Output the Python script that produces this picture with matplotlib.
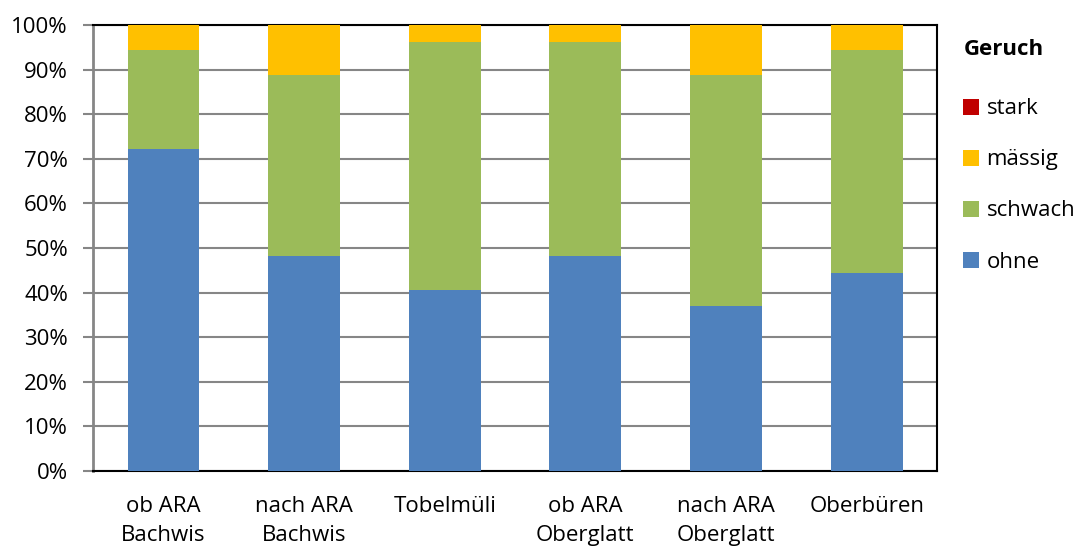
import numpy as np
import matplotlib
matplotlib.use("Agg")
import matplotlib.pyplot as plt
from matplotlib.ticker import MultipleLocator, PercentFormatter

plt.rcParams["font.family"] = ["Open Sans", "DejaVu Sans"]

stations = ["ob ARA\nBachwis", "nach ARA\nBachwis", "Tobelmüli",
            "ob ARA\nOberglatt", "nach ARA\nOberglatt", "Oberbüren"]
ohne = [72.2, 48.1, 40.7, 48.1, 37.0, 44.4]
schwach = [22.2, 40.7, 55.6, 48.1, 51.9, 50.0]
maessig = [5.6, 11.1, 3.7, 3.7, 11.1, 5.6]
stark = [0.0, 0.0, 0.0, 0.0, 0.0, 0.0]

series = [("ohne", ohne, "#4F81BD"),
          ("schwach", schwach, "#9BBB59"),
          ("mässig", maessig, "#FFC000"),
          ("stark", stark, "#C00000")]

FS = 16

fig = plt.figure(figsize=(10.82, 5.5), dpi=100)
ax = fig.add_axes([0.086, 0.1436, 0.780, 0.8109])

x = np.arange(len(stations))
bottom = np.zeros(len(stations))
handles = []
for name, vals, color in series:
    b = ax.bar(x, vals, 0.51, bottom=bottom, color=color, label=name, zorder=3)
    bottom += np.array(vals)
    handles.append(b)

ax.set_xlim(-0.5, len(stations) - 0.5)
ax.set_ylim(0, 100)
ax.yaxis.set_major_locator(MultipleLocator(10))
ax.yaxis.set_major_formatter(PercentFormatter(decimals=0))
ax.grid(axis="y", color="#868686", linewidth=1.5, zorder=0)

ax.set_xticks(x)
ax.set_xticklabels(stations, fontsize=FS, linespacing=1.5)
ax.tick_params(axis="x", length=0, pad=18)
ax.tick_params(axis="y", length=7, width=1.5, color="#868686",
               labelsize=FS, pad=11)

for side in ["top", "right", "bottom"]:
    ax.spines[side].set_color("black")
    ax.spines[side].set_linewidth(1.5)
ax.spines["left"].set_color("#868686")
ax.spines["left"].set_linewidth(2)

leg = fig.legend(handles[::-1], [s[0] for s in series][::-1],
                 loc="upper left", bbox_to_anchor=(0.880, 0.950),
                 frameon=False, fontsize=FS, title="Geruch",
                 title_fontproperties={"weight": "bold", "size": FS},
                 alignment="left", handlelength=0.7, handleheight=0.7,
                 handletextpad=0.35, labelspacing=1.35, borderpad=0)
leg._legend_box.sep = 28

fig.savefig("out.png", dpi=100)
